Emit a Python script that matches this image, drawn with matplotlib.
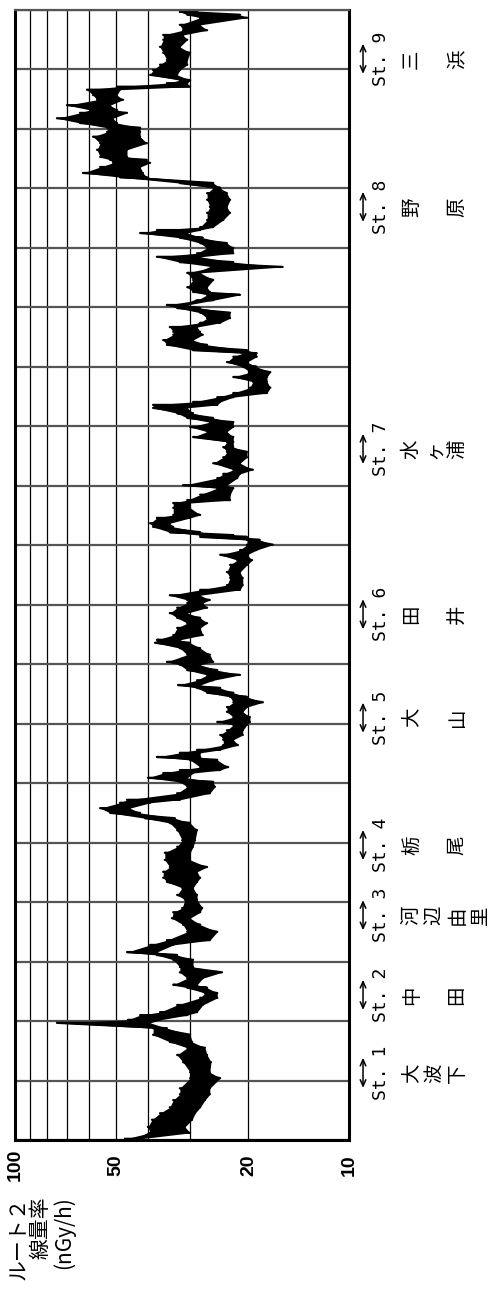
import numpy as np
import matplotlib
matplotlib.use("Agg")
import matplotlib.pyplot as plt
from matplotlib.ticker import NullFormatter
import matplotlib.transforms as mtransforms

plt.rcParams['font.family'] = ['Noto Sans CJK JP', 'DejaVu Sans']

# distance along the route (km) and the two edges of the noisy trace (nGy/h)
dist = [0.02, 0.12, 0.22, 0.34, 0.45, 0.55, 0.67, 0.77, 0.87, 1.04, 1.14, 1.31, 1.43, 1.55, 1.65, 1.77, 1.88, 1.97,
        2.02, 2.10, 2.15, 2.27, 2.39, 2.47, 2.56, 2.61, 2.72, 2.82, 2.91, 3.03, 3.11, 3.16, 3.28, 3.36, 3.50, 3.62,
        3.73, 3.83, 3.90, 4.04, 4.12, 4.24, 4.34, 4.41, 4.51, 4.59, 4.71, 4.83, 4.93, 5.04, 5.21, 5.33, 5.41, 5.50,
        5.58, 5.67, 5.72, 5.83, 5.94, 6.02, 6.09, 6.17, 6.22, 6.27, 6.39, 6.44, 6.51, 6.56, 6.64, 6.73, 6.81, 6.89,
        6.98, 7.03, 7.11, 7.20, 7.28, 7.36, 7.45, 7.52, 7.60, 7.65, 7.73, 7.82, 7.90, 7.99, 8.04, 8.16, 8.27, 8.36,
        8.41, 8.49, 8.61, 8.69, 8.78, 8.86, 8.95, 9.03, 9.08, 9.16, 9.25, 9.33, 9.45, 9.55, 9.67, 9.75, 9.84, 9.92,
        10.01, 10.09, 10.14, 10.17, 10.22, 10.31, 10.37, 10.46, 10.51, 10.63, 10.71, 10.76, 10.85, 10.96, 11.01,
        11.13, 11.20, 11.27, 11.38, 11.48, 11.57, 11.65, 11.74, 11.82, 11.91, 11.99, 12.07, 12.14, 12.22, 12.31,
        12.36, 12.41, 12.49, 12.56, 12.65, 12.75, 12.83, 12.91, 13.00, 13.08, 13.17, 13.23, 13.28, 13.37, 13.45,
        13.54, 13.59, 13.67, 13.74, 13.82, 13.91, 13.99, 14.04, 14.12, 14.21, 14.26, 14.34, 14.46, 14.58, 14.68,
        14.76, 14.85, 14.91, 15.00, 15.08, 15.17, 15.25, 15.30, 15.35, 15.47, 15.59, 15.69, 15.81, 15.92, 16.01,
        16.09, 16.19, 16.26, 16.36, 16.43, 16.48, 16.53, 16.65, 16.76, 16.87, 16.95, 17.02, 17.10, 17.18, 17.27,
        17.32, 17.40, 17.49, 17.57, 17.66, 17.71, 17.77, 17.82, 17.91, 17.99, 18.08, 18.16, 18.28, 18.38, 18.50,
        18.58, 18.66, 18.75, 18.87, 18.92, 18.97]
dose_hi = [46.8, 39.4, 40.0, 38.9, 36.8, 34.4, 33.6, 32.1, 32.1, 29.9, 29.9, 31.4, 32.7, 30.5, 34.4, 38.6, 38.6, 74.9,
           45.9, 42.2, 36.8, 32.7, 27.9, 27.0, 30.5, 33.6, 30.5, 32.1, 32.1, 33.6, 37.6, 46.2, 39.4, 35.1, 30.5, 31.4,
           33.9, 33.6, 31.6, 31.0, 32.7, 31.6, 35.1, 36.0, 36.0, 34.4, 35.6, 35.6, 32.7, 31.6, 32.7, 34.4, 40.8, 51.9,
           55.6, 48.5, 46.2, 32.7, 30.5, 32.1, 40.0, 36.0, 32.1, 27.9, 29.9, 37.6, 32.1, 28.5, 23.8, 23.8, 24.3, 23.2,
           22.2, 24.8, 22.2, 23.2, 23.2, 22.2, 22.7, 26.6, 28.5, 32.5, 28.5, 26.6, 30.5, 32.1, 35.1, 30.5, 32.1, 38.1,
           37.6, 33.6, 32.7, 30.5, 32.7, 34.4, 32.7, 30.5, 30.5, 34.4, 27.9, 23.2, 22.7, 23.2, 22.7, 21.6, 24.3, 21.2,
           20.2, 20.2, 27.9, 27.9, 34.4, 38.6, 39.4, 37.6, 33.6, 33.6, 33.6, 30.5, 27.9, 24.8, 31.4,
           24.8, 23.8, 22.2, 25.5, 23.8, 23.2, 23.8, 23.2, 29.3, 26.6, 29.9, 26.1, 30.5, 32.7, 38.6,
           38.6, 29.3, 24.8, 22.2, 19.8, 19.4, 22.2, 19.8, 20.8, 23.2, 22.2, 20.8, 29.3, 35.1, 36.0,
           33.6, 33.6, 34.4, 27.9, 26.6, 27.9, 32.7, 35.1, 28.5, 26.6, 29.3, 30.5, 29.3, 30.5, 25.5,
           32.1, 37.6, 28.5, 26.6, 27.9, 32.1, 42.2, 37.6, 27.9, 26.6, 26.6, 26.1, 26.6, 26.6, 25.5,
           32.1, 48.5, 62.6, 55.6, 50.9, 51.9, 55.6, 56.8, 55.6, 58.4, 53.0, 53.0, 63.9, 74.9, 63.9,
           59.6, 69.9, 56.8, 58.4, 60.9, 49.5, 35.1, 32.1, 39.4, 38.6, 36.8, 35.1, 36.0, 36.8, 36.0,
           36.0, 31.4, 32.1, 27.9, 30.5, 32.1]
dose_lo = [42.2, 29.9, 31.0, 29.5, 28.9, 27.9, 27.0, 26.1, 26.1, 24.3, 26.1, 25.9, 26.6, 27.0, 29.5, 29.9, 35.1, 39.4,
           36.8, 30.5, 28.5, 27.4, 24.8, 24.8, 26.6, 28.5, 27.4, 24.0, 29.3, 29.3, 32.7, 37.6, 33.6, 26.1, 24.8, 27.9,
           29.9, 27.9, 27.5, 28.5, 28.5, 29.3, 28.5, 27.9, 28.5, 26.6, 29.9, 29.9, 29.3, 28.9, 28.5, 29.9, 33.2, 42.2,
           45.3, 39.4, 32.1, 26.1, 25.2, 25.5, 30.5, 29.3, 24.3, 23.0, 24.8, 27.9, 27.9, 24.3, 21.5, 22.2, 20.8, 20.8,
           20.2, 19.8, 19.8, 20.8, 20.2, 18.1, 20.2, 22.2, 24.3, 27.9, 25.5, 21.2, 24.8, 27.9, 25.5, 26.1, 27.9, 29.9,
           32.1, 27.4, 27.9, 26.6, 27.9, 30.5, 26.6, 27.4, 26.1, 27.9, 21.2, 20.8, 20.8, 21.2, 20.2, 19.5, 20.2, 18.9,
           16.9, 18.5, 20.2, 22.2, 27.9, 33.6, 34.4, 29.9, 27.9, 29.9, 29.9, 22.7, 22.7, 22.2, 23.2,
           21.6, 21.2, 19.4, 21.2, 20.2, 20.2, 22.2, 22.2, 22.2, 23.2, 22.2, 22.2, 25.5, 29.3, 30.5,
           24.8, 24.3, 22.2, 17.6, 17.2, 17.6, 17.6, 17.2, 18.9, 20.2, 18.9, 18.9, 20.2, 26.6, 29.3,
           27.4, 27.9, 28.5, 24.3, 22.7, 22.7, 27.9, 30.5, 25.5, 21.2, 26.1, 26.6, 25.5, 27.9, 15.8,
           22.2, 27.9, 22.2, 22.2, 23.2, 27.4, 30.5, 27.9, 25.5, 23.8, 22.7, 23.2, 22.7, 23.2, 24.3,
           25.5, 40.3, 41.4, 42.2, 39.4, 40.3, 46.2, 46.2, 40.3, 42.2, 42.2, 42.2, 49.5, 50.9, 46.2,
           49.5, 51.9, 47.5, 49.5, 48.5, 29.9, 30.5, 29.9, 32.7, 32.1, 30.5, 30.5, 29.9, 32.1, 30.5,
           31.4, 26.6, 27.9, 20.2, 21.2, 28.5]

station_labels = ['St. 1', 'St. 2', 'St. 3', 'St. 4', 'St. 5', 'St. 6', 'St. 7', 'St. 8', 'St. 9']
station_names = ['大\n波\n下', '中\n\n田', '河\n辺\n由\n里', '栃\n\n尾', '大\n\n山', '田\n\n井',
                 '水\nヶ\n浦', '野\n\n原', '三\n\n浜']
station_pos = [1.13, 2.44, 3.78, 4.96, 7.10, 8.84, 11.62, 15.69, 18.18]

W, H = 494, 1303
fig = plt.figure(figsize=(W / 100, H / 100), dpi=100)
ax = fig.add_axes([15 / W, 163 / H, 334 / W, 1130 / H])

# trace: zigzag between the edges read at each distance
xs, ys = [], []
for i in range(len(dist)):
    xs += [dose_hi[i], dose_lo[i]]
    ys += [dist[i], dist[i]]
ax.fill_betweenx(dist, dose_lo, dose_hi, color='black', lw=0)
ax.plot(xs, ys, color='black', lw=1.6)

ax.set_xscale('log')
ax.set_xlim(100, 10)
ax.set_ylim(0, 19)

ax.set_xticks([100, 50, 20, 10])
ax.set_xticklabels(['100', '50', '20', '10'], rotation=90, va='center', ha='center',
                   fontsize=14, fontweight='bold', family='Liberation Sans')
ax.set_xticks([20, 30, 40, 50, 60, 70, 80, 90], minor=True)
ax.xaxis.set_minor_formatter(NullFormatter())
ax.tick_params(axis='x', which='both', length=0, pad=18)
ax.set_yticks(range(0, 20))
ax.set_yticklabels([])
ax.tick_params(axis='y', length=0)
ax.grid(axis='x', which='both', color='black', lw=0.9)
ax.grid(axis='y', which='major', color='#555555', lw=1.6)
ax.set_axisbelow(True)
for side, sp in ax.spines.items():
    sp.set_linewidth(2.2)
ax.spines['top'].set_color('#555555')
ax.spines['top'].set_linewidth(1.6)

# station markers on the right side
trans = mtransforms.blended_transform_factory(ax.transAxes, ax.transData)
for lab, name, pos in zip(station_labels, station_names, station_pos):
    ax.annotate('', xy=(1.042, pos + 0.3), xytext=(1.042, pos - 0.3), xycoords=trans, textcoords=trans,
                arrowprops=dict(arrowstyle='<->,head_length=0.45,head_width=0.2', lw=1.1, color='black'),
                annotation_clip=False)
    ax.text(1.096, pos, lab, transform=trans, rotation=90, ha='center', va='center',
            fontsize=13, family='DejaVu Sans Mono')
    ax.text(1.155, pos, name, transform=trans, rotation=90, ha='left', va='center',
            fontsize=14, linespacing=1.12, multialignment='center')

fig.text(41 / W, 1 - 1196 / H, 'ルート２\n線量率\n(nGy/h)', rotation=90, ha='center', va='top',
         fontsize=15, linespacing=1.02, multialignment='right')

fig.savefig('out.png', dpi=100)
